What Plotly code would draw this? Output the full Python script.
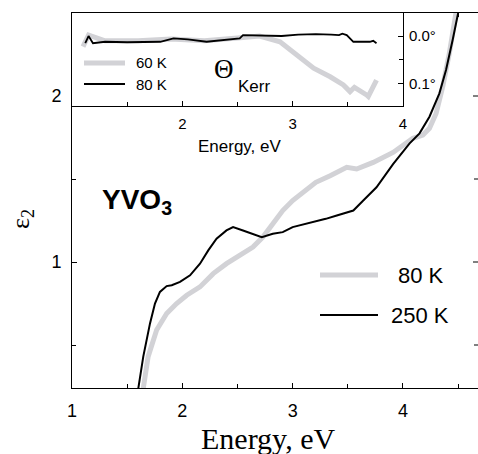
import plotly.graph_objects as go

# ---------------- data ----------------
e_250K = [1.601, 1.646, 1.707, 1.752, 1.797, 1.858, 1.904, 1.979, 2.07, 2.16, 2.235, 2.31,
          2.40, 2.46, 2.55, 2.64, 2.72, 2.82, 2.91, 3.00, 3.12, 3.19, 3.30, 3.40, 3.55, 3.64,
          3.76, 3.91, 4.06, 4.15, 4.24, 4.33, 4.39, 4.45, 4.50]
eps_250K = [0.239, 0.43, 0.63, 0.75, 0.82, 0.855, 0.86, 0.88, 0.92, 0.99, 1.07, 1.14,
            1.19, 1.21, 1.19, 1.17, 1.15, 1.17, 1.18, 1.21, 1.23, 1.24, 1.26, 1.28, 1.31, 1.37,
            1.45, 1.59, 1.715, 1.775, 1.875, 2.016, 2.157, 2.337, 2.50]

e_80K = [1.646, 1.69, 1.767, 1.858, 1.948, 2.04, 2.16, 2.28, 2.40, 2.52, 2.64, 2.73,
         2.82, 2.91, 3.00, 3.12, 3.21, 3.34, 3.49, 3.58, 3.73, 3.91, 4.09, 4.18, 4.24,
         4.30, 4.36, 4.42, 4.48]
eps_80K = [0.239, 0.43, 0.59, 0.69, 0.75, 0.80, 0.85, 0.93, 0.99, 1.04, 1.09, 1.15,
           1.23, 1.31, 1.37, 1.43, 1.48, 1.52, 1.57, 1.56, 1.60, 1.66, 1.745, 1.765, 1.805,
           1.895, 2.056, 2.257, 2.50]

# inset: Kerr rotation (deg)
k_e_80K = [1.12, 1.15, 1.19, 1.30, 1.50, 1.80, 1.92, 2.05, 2.22, 2.40, 2.52, 2.55, 2.70,
           2.90, 3.05, 3.21, 3.35, 3.42, 3.45, 3.49, 3.55, 3.62, 3.70, 3.73, 3.76]
k_th_80K = [0.015, 0.000, 0.015, 0.012, 0.013, 0.012, 0.005, 0.007, 0.012, 0.008, 0.005,
            -0.002, -0.001, 0.000, -0.003, -0.004, -0.003, -0.002, -0.005, -0.002, 0.012,
            0.012, 0.012, 0.010, 0.015]

k_e_60K = [1.10, 1.15, 1.30, 1.60, 1.90, 2.20, 2.50, 2.70, 2.885, 3.04, 3.19, 3.34, 3.46,
           3.52, 3.56, 3.67, 3.685, 3.76]
k_th_60K = [0.022, -0.002, 0.010, 0.010, 0.006, 0.010, 0.004, 0.000, 0.012, 0.040, 0.067,
            0.085, 0.102, 0.116, 0.107, 0.123, 0.126, 0.092]

main_xticks = [1, 2, 3, 4]
main_yticks = [1, 2]
main_yminor = [0.5, 1.5]
inset_xticks = [2, 3, 4]
inset_yticks = [0.0, 0.1]
inset_yticklabels = ["0.0°", "0.1°"]

GRAY = "#d2d2d6"
SANS = "Liberation Sans, Arial, sans-serif"
SERIF = "Liberation Serif, Times New Roman, serif"

W, H = 478, 454
L, R, T, B = 72, 478, 13, 388


def px(x):
    return (x - L) / (R - L)


def py(y):
    return (B - y) / (B - T)


fig = go.Figure()

fig.add_trace(go.Scatter(x=e_80K, y=eps_80K, mode="lines", name="80 K",
                         line=dict(color=GRAY, width=5), xaxis="x", yaxis="y",
                         showlegend=False))
fig.add_trace(go.Scatter(x=e_250K, y=eps_250K, mode="lines", name="250 K",
                         line=dict(color="black", width=2), xaxis="x", yaxis="y",
                         showlegend=False))
fig.add_trace(go.Scatter(x=k_e_60K, y=k_th_60K, mode="lines", name="60 K",
                         line=dict(color=GRAY, width=5), xaxis="x2", yaxis="y2",
                         showlegend=False))
fig.add_trace(go.Scatter(x=k_e_80K, y=k_th_80K, mode="lines", name="80 K",
                         line=dict(color="black", width=1.8), xaxis="x2", yaxis="y2",
                         showlegend=False))

axis_common = dict(showgrid=False, zeroline=False, linecolor="black", linewidth=1,
                   tickcolor="black", ticks="inside", ticklen=5, tickwidth=1,
                   automargin=False)

yr = [1 - (B - 262) / 166, 2 + (96 - T) / 166]

fig.update_layout(
    template="none",
    width=W, height=H,
    margin=dict(l=L, r=W - R, t=T, b=H - B, pad=0),
    paper_bgcolor="white", plot_bgcolor="white",
    showlegend=False,
    xaxis=dict(**axis_common, range=[1, 1 + (R - L) / 110.33], domain=[0, 1],
               tickvals=main_xticks, showline=True, mirror="ticks",
               minor=dict(dtick=0.5, tick0=1, ticks="inside", ticklen=4, tickcolor="black"),
               tickfont=dict(family=SANS, size=18, color="black"),
               ticklabelstandoff=6),
    yaxis=dict(**axis_common, range=yr,
               domain=[0, 1], tickvals=main_yticks, showline=True, mirror=False,
               minor=dict(dtick=0.5, tick0=0.5, ticks="inside", ticklen=4, tickcolor="black"),
               tickfont=dict(family=SANS, size=18, color="black"),
               ticklabelstandoff=6),
    xaxis2=dict(**axis_common, range=[1, 4], domain=[0, px(403)], anchor="y2",
                tickvals=inset_xticks, showline=True, mirror=True,
                minor=dict(dtick=0.5, tick0=1, ticks="inside", ticklen=4, tickcolor="black"),
                tickfont=dict(family=SANS, size=15, color="black"),
                ticklabelstandoff=4),
    yaxis2=dict(**axis_common, range=[0.146, -0.048], domain=[py(106), 1], anchor="x2",
                side="right", tickvals=inset_yticks, ticktext=inset_yticklabels,
                showline=True, mirror=True,
                minor=dict(dtick=0.05, tick0=0, ticks="inside", ticklen=4, tickcolor="black"),
                tickfont=dict(family=SANS, size=15, color="black"),
                ticklabelstandoff=2),
)

shapes = []
shapes.append(dict(type="rect", xref="paper", yref="paper", x0=px(L), x1=px(403),
                   y0=py(106), y1=py(T), fillcolor="white", line=dict(width=0), layer="below"))
# right-hand tick marks of the main frame (the right spine itself is off-canvas)
for v in main_yticks + main_yminor:
    ln = 5 if v in main_yticks else 4
    shapes.append(dict(type="line", xref="paper", yref="y", x0=1.0, x1=1.0 - ln / (R - L),
                       y0=v, y1=v, line=dict(color="black", width=1)))
shapes.append(dict(type="line", xref="paper", yref="paper", x0=px(320), x1=px(378),
                   y0=py(275), y1=py(275), line=dict(color=GRAY, width=5)))
shapes.append(dict(type="line", xref="paper", yref="paper", x0=px(320), x1=px(378),
                   y0=py(315), y1=py(315), line=dict(color="black", width=2)))
shapes.append(dict(type="line", xref="paper", yref="paper", x0=px(84), x1=px(125),
                   y0=py(63), y1=py(63), line=dict(color=GRAY, width=5)))
shapes.append(dict(type="line", xref="paper", yref="paper", x0=px(84), x1=px(125),
                   y0=py(84), y1=py(84), line=dict(color="black", width=2)))
fig.update_layout(shapes=shapes)

ann = []


def add_text(text, x, y, size, family=SANS, xanchor="center", yanchor="middle", angle=0):
    ann.append(dict(text=text, x=px(x), y=py(y), xref="paper", yref="paper",
                    xanchor=xanchor, yanchor=yanchor, showarrow=False, textangle=angle,
                    font=dict(family=family, size=size, color="black")))


add_text("Energy, eV", 268, 438, 30, family=SERIF)
add_text("ε<sub>2</sub>", 22, 219, 26, family=SERIF, angle=-90)
add_text("<b>YVO<sub>3</sub></b>", 100, 201, 28, xanchor="left")
add_text("80 K", 396, 275, 22, xanchor="left")
add_text("250 K", 389, 315, 22, xanchor="left")
add_text("60 K", 134, 63, 15, xanchor="left")
add_text("80 K", 134, 84, 15, xanchor="left")
add_text("Θ", 224, 69, 27, family=SERIF)
add_text("Kerr", 236, 86, 17, xanchor="left")
add_text("Energy, eV", 240, 146, 17)
fig.update_layout(annotations=ann)

fig.write_html("out.html", config={"displayModeBar": False},
               post_script="document.body.style.margin='0';document.body.style.padding='0';"
                           "document.documentElement.style.overflow='hidden';")
